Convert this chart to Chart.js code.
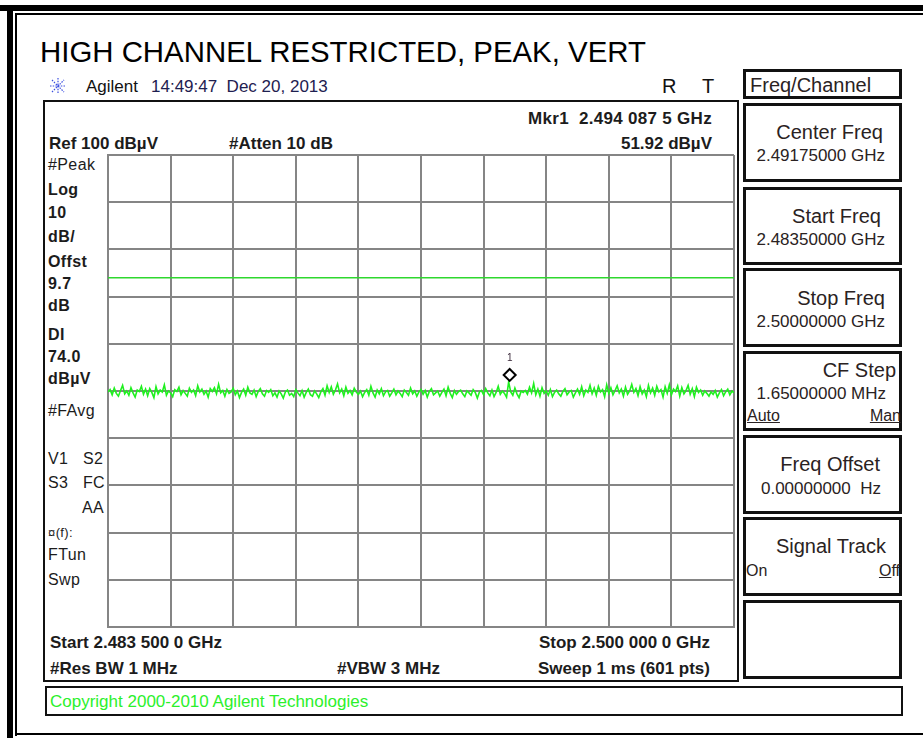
<!DOCTYPE html>
<html>
<head>
<meta charset="utf-8">
<script src="https://cdn.jsdelivr.net/npm/chart.js@4.4.0/dist/chart.umd.min.js"></script>
<style>
body{margin:0;background:#fff;font-family:Arial,"Liberation Sans",sans-serif;}
#wrap{position:relative;width:923px;height:738px;overflow:hidden;background:#fff;}
#c{position:absolute;left:0;top:0;}
.t{position:absolute;white-space:nowrap;line-height:1;color:#1c1c1c;transform:translateY(-50%);}
.b{font-weight:bold;}
.r{transform:translate(-100%,-50%);}
.ln{position:absolute;background:#000;}
.box{position:absolute;border:3px solid #111;box-sizing:border-box;}
.side{font-size:16px;left:48px;letter-spacing:0.4px;}
.key{font-size:20px;color:#2a2222;}
.val{font-size:17px;color:#2a2222;}
</style>
</head>
<body>
<div id="wrap">
<!-- outer frame -->
<div class="ln" style="left:0;top:5px;width:923px;height:6px"></div>
<div class="ln" style="left:7px;top:5px;width:6px;height:733px"></div>
<div class="ln" style="left:15px;top:13px;width:908px;height:2px"></div>
<div class="ln" style="left:15px;top:13px;width:2px;height:723px"></div>
<div class="ln" style="left:15px;top:733px;width:908px;height:2px"></div>

<div class="t" style="left:40px;top:52px;font-size:29.4px;color:#000">HIGH CHANNEL RESTRICTED, PEAK, VERT</div>

<svg style="position:absolute;left:49px;top:77px" width="18" height="18" viewBox="-9 -9 18 18">
<g stroke="#3a4ee0" stroke-width="1.2" stroke-dasharray="1.5 1.2">
<line x1="-8" y1="0" x2="8" y2="0"/><line x1="0" y1="-8" x2="0" y2="8"/>
<line x1="-6" y1="-6" x2="6" y2="6"/><line x1="-6" y1="6" x2="6" y2="-6"/>
</g></svg>
<div class="t" style="left:86px;top:86px;font-size:17px;color:#111">Agilent</div>
<div class="t" style="left:151px;top:86px;font-size:17px;color:#1e2050">14:49:47&nbsp; Dec 20, 2013</div>
<div class="t" style="left:662px;top:86px;font-size:20px;color:#111">R</div>
<div class="t" style="left:702px;top:86px;font-size:20px;color:#111">T</div>

<!-- screen box -->
<div class="box" style="left:43px;top:100px;width:696px;height:582px;border-width:2px"></div>

<div class="t b r" style="left:712px;top:118px;font-size:17px;letter-spacing:0.3px">Mkr1&nbsp; 2.494 087 5 GHz</div>
<div class="t b" style="left:49px;top:143px;font-size:17px">Ref 100 dBµV</div>
<div class="t b" style="left:229px;top:143px;font-size:17px">#Atten 10 dB</div>
<div class="t b r" style="left:712px;top:143px;font-size:17px">51.92 dBµV</div>

<div class="t side" style="top:165px">#Peak</div>
<div class="t side b" style="top:190px">Log</div>
<div class="t side b" style="top:213px">10</div>
<div class="t side b" style="top:237px">dB/</div>
<div class="t side b" style="top:262px">Offst</div>
<div class="t side b" style="top:284px">9.7</div>
<div class="t side b" style="top:306px">dB</div>
<div class="t side b" style="top:335px">DI</div>
<div class="t side b" style="top:357px">74.0</div>
<div class="t side b" style="top:379px">dBµV</div>
<div class="t side" style="top:411px">#FAvg</div>
<div class="t side" style="top:459px">V1&nbsp;&nbsp; S2</div>
<div class="t side" style="top:483px">S3&nbsp;&nbsp; FC</div>
<div class="t side" style="top:508px;left:82px">AA</div>
<div class="t side" style="top:532px;font-size:13px">¤(f):</div>
<div class="t side" style="top:555px">FTun</div>
<div class="t side" style="top:580px">Swp</div>

<div class="t b" style="left:50px;top:642px;font-size:17px">Start 2.483 500 0 GHz</div>
<div class="t b r" style="left:710px;top:642px;font-size:17px">Stop 2.500 000 0 GHz</div>
<div class="t b" style="left:50px;top:668px;font-size:17px">#Res BW 1 MHz</div>
<div class="t b" style="left:337px;top:668px;font-size:17px">#VBW 3 MHz</div>
<div class="t b r" style="left:710px;top:668px;font-size:17px">Sweep 1 ms (601 pts)</div>

<!-- copyright bar -->
<div class="box" style="left:45px;top:686px;width:858px;height:30px;border-width:2px"></div>
<div class="t" style="left:50px;top:701px;font-size:17px;color:#2bf02b">Copyright 2000-2010 Agilent Technologies</div>

<!-- softkeys -->
<div class="box" style="left:743px;top:69px;width:159px;height:30px"></div>
<div class="t key" style="left:750px;top:85px">Freq/Channel</div>

<div class="box" style="left:743px;top:103px;width:159px;height:79px"></div>
<div class="t key r" style="left:883px;top:132px">Center Freq</div>
<div class="t val r" style="left:885px;top:155px">2.49175000 GHz</div>

<div class="box" style="left:743px;top:187px;width:159px;height:78px"></div>
<div class="t key r" style="left:881px;top:216px">Start Freq</div>
<div class="t val r" style="left:885px;top:239px">2.48350000 GHz</div>

<div class="box" style="left:743px;top:268px;width:159px;height:79px"></div>
<div class="t key r" style="left:885px;top:298px">Stop Freq</div>
<div class="t val r" style="left:885px;top:321px">2.50000000 GHz</div>

<div class="box" style="left:743px;top:351px;width:159px;height:80px"></div>
<div class="t key r" style="left:896px;top:370px">CF Step</div>
<div class="t val r" style="left:886px;top:393px">1.65000000 MHz</div>
<div class="t" style="left:747px;top:416px;font-size:16px;color:#2a2222;text-decoration:underline">Auto</div>
<div class="t r" style="left:901px;top:416px;font-size:16px;color:#2a2222;text-decoration:underline">Man</div>

<div class="box" style="left:743px;top:435px;width:159px;height:79px"></div>
<div class="t key r" style="left:880px;top:464px">Freq Offset</div>
<div class="t val r" style="left:881px;top:488px">0.00000000&nbsp; Hz</div>

<div class="box" style="left:743px;top:517px;width:159px;height:79px"></div>
<div class="t key r" style="left:886px;top:546px">Signal Track</div>
<div class="t" style="left:746px;top:571px;font-size:16px;color:#2a2222">On</div>
<div class="t r" style="left:900px;top:571px;font-size:16px;color:#2a2222"><u>O</u>ff</div>

<div class="box" style="left:743px;top:600px;width:159px;height:79px"></div>

<canvas id="c" width="923" height="738"></canvas>
</div>

<script>
// sweep settings
var startGHz = 2.4835;
var stopGHz = 2.5;
var refLevel = 100;     // dBuV, top of screen
var dbPerDiv = 10;
var xDivs = 10;
var displayLine = 74.0; // DI
var markerFreq = 2.4940875;
var markerAmp = 51.92;

// peak trace, dBuV (every other sweep point)
var traceDbuv = [
49.8, 50.3, 49.2, 50.6, 49.5, 48.9, 50.1, 51.2, 49.4, 50.0,
49.1, 50.7, 49.6, 48.7, 50.2, 49.9, 51.0, 49.3, 50.4, 49.0,
50.5, 49.7, 48.6, 50.9, 49.4, 50.2, 49.8, 51.3, 49.1, 50.0,
49.6, 48.8, 50.3, 49.9, 50.8, 49.2, 50.1, 49.5, 48.9, 50.6,
49.7, 50.2, 49.0, 51.1, 49.8, 50.4, 49.3, 50.0, 48.7, 50.5,
49.9, 50.7, 49.4, 51.4, 49.6, 50.1, 48.9, 50.3, 49.5, 49.8,
50.6, 49.2, 50.0, 48.6, 49.7, 50.4, 49.1, 50.8, 49.6, 49.3,
50.2, 48.8, 49.9, 50.5, 49.4, 48.9, 50.1, 49.7, 50.3, 49.0,
49.6, 48.7, 50.0, 49.4, 48.5, 49.8, 50.2, 49.1, 49.5, 48.8,
50.3, 49.6, 49.0, 50.1, 48.7, 49.7, 50.4, 49.2, 48.9, 50.0,
49.4, 48.6, 49.8, 50.5, 49.1, 51.1, 49.7, 50.9, 49.3, 50.2,
51.5, 49.6, 50.4, 49.0, 50.8, 49.5, 50.1, 49.2, 50.6, 49.8,
49.3, 50.0, 48.8, 49.7, 50.3, 49.1, 51.0, 49.6, 48.7, 50.2,
49.4, 50.5, 49.0, 49.8, 50.1, 48.9, 49.6, 50.4, 49.2, 50.0,
49.5, 48.8, 50.2, 49.7, 49.1, 50.6, 49.4, 50.0, 48.9, 49.8,
50.3, 49.3, 50.1, 48.7, 49.9, 50.5, 49.2, 49.6, 50.0, 48.9,
49.7, 50.4, 49.0, 50.8, 49.5, 48.6, 50.1, 49.3, 49.9, 50.2,
49.4, 48.8, 50.0, 49.6, 49.1, 50.3, 49.7, 48.5, 49.8, 50.1,
49.2, 50.5, 49.6, 49.0, 50.2, 48.8, 49.7, 51.0, 49.3, 50.0,
49.5, 48.7, 51.92, 49.8, 49.1, 50.6, 49.4, 48.6, 50.0, 49.7,
50.1, 49.3, 50.8, 49.6, 51.6, 49.2, 50.4, 48.9, 50.7, 49.5,
50.0, 49.1, 50.3, 48.8, 49.7, 50.2, 49.4, 48.9, 49.9, 50.5,
49.2, 49.8, 50.1, 48.7, 49.6, 50.4, 49.3, 50.9, 49.0, 50.2,
49.7, 51.2, 49.4, 50.6, 49.1, 51.0, 49.8, 50.3, 48.8, 51.3,
49.5, 50.7, 49.2, 50.1, 51.1, 49.6, 50.4, 48.9, 50.8, 49.3,
50.0, 51.4, 49.7, 50.5, 49.0, 50.9, 49.4, 50.2, 48.8, 51.2,
49.6, 50.6, 49.1, 51.0, 49.8, 50.3, 48.7, 50.9, 49.5, 51.3,
49.2, 50.4, 49.9, 51.1, 48.9, 50.7, 49.4, 50.1, 51.2, 49.3,
50.5, 48.8, 50.8, 49.7, 50.2, 49.1, 50.0, 49.5, 48.9, 49.8,
49.3, 50.1, 48.7, 49.6, 50.3, 49.0, 49.8, 50.4, 49.2, 50.0,
49.6
];

// sweep bins, evenly spaced from start to stop
var traceFreq = traceDbuv.map(function (v, i) {
  return startGHz + i * (stopGHz - startGHz) / (traceDbuv.length - 1);
});

var gridGray = '#858585';

// marker diamond sits just above the trace point, like the analyzer draws it
var markerPlugin = {
  id: 'marker',
  afterDatasetsDraw: function (chart) {
    var ctx = chart.ctx;
    var x = chart.scales.x.getPixelForValue(markerFreq);
    var y = chart.scales.y.getPixelForValue(markerAmp) - 7;
    ctx.save();
    ctx.strokeStyle = '#000';
    ctx.fillStyle = '#fff';
    ctx.lineWidth = 2;
    ctx.beginPath();
    ctx.moveTo(x, y - 6);
    ctx.lineTo(x + 6, y);
    ctx.lineTo(x, y + 6);
    ctx.lineTo(x - 6, y);
    ctx.closePath();
    ctx.fill();
    ctx.stroke();
    ctx.fillStyle = '#3a2a3a';
    ctx.font = '10px Arial';
    ctx.textAlign = 'center';
    ctx.textBaseline = 'middle';
    ctx.fillText('1', x, y - 17);
    ctx.restore();
  }
};

var ctx = document.getElementById('c').getContext('2d');
new Chart(ctx, {
  type: 'line',
  data: {
    datasets: [
      {
        data: traceFreq.map(function (f, i) { return { x: f, y: traceDbuv[i] }; }),
        borderColor: '#1ff01f',
        borderWidth: 1.6,
        pointRadius: 0,
        tension: 0
      },
      {
        data: [{ x: startGHz, y: displayLine }, { x: stopGHz, y: displayLine }],
        borderColor: '#2ed82e',
        borderWidth: 1.5,
        pointRadius: 0
      }
    ]
  },
  options: {
    responsive: false,
    animation: false,
    events: [],
    layout: { padding: { left: 108, top: 155, right: 189, bottom: 111 } },
    plugins: { legend: { display: false }, tooltip: { enabled: false } },
    scales: {
      x: {
        type: 'linear',
        min: startGHz,
        max: stopGHz,
        afterBuildTicks: function (s) {
          var t = [];
          for (var i = 0; i <= xDivs; i++) t.push({ value: startGHz + i * (stopGHz - startGHz) / xDivs });
          s.ticks = t;
        },
        ticks: { display: false },
        grid: { color: gridGray, lineWidth: 2, drawTicks: false },
        border: { color: gridGray, width: 2 }
      },
      y: {
        min: refLevel - 10 * dbPerDiv,
        max: refLevel,
        ticks: { display: false, stepSize: dbPerDiv },
        grid: { color: gridGray, lineWidth: 2, drawTicks: false },
        border: { color: gridGray, width: 2 }
      }
    }
  },
  plugins: [markerPlugin]
});
</script>
</body>
</html>
